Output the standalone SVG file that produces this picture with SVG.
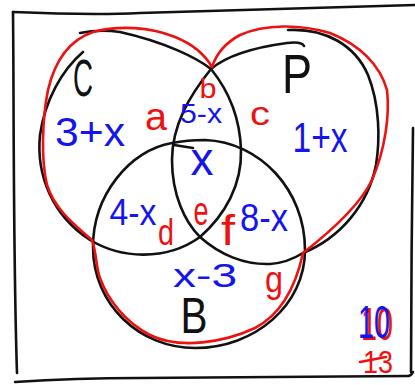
<svg xmlns="http://www.w3.org/2000/svg" width="415" height="385" viewBox="0 0 415 385">
<style>
.ink{fill:none;stroke:#111;stroke-width:2.6;stroke-linecap:round;stroke-linejoin:round}
.red{fill:none;stroke:#ee1111;stroke-width:2.6;stroke-linecap:round;stroke-linejoin:round}
text{font-family:"Liberation Sans",Arial,sans-serif;text-anchor:middle}
.blk{fill:#111}
.bl{fill:#1414f0}
.rd{fill:#ee1111}
</style>
<rect width="415" height="385" fill="#fff"/>
<g id="frame">
<path class="ink" d="M13,12 C60,14 100,15 140,13 C250,9 350,7 415,5"/>
<path class="ink" d="M13,12 C14,100 13,250 17,373"/>
<path class="ink" d="M15,382 C60,379 100,378 140,378 C250,378 350,377 408,376 C411,376 412,374 413,372"/>
<path class="ink" d="M413,128 C412,200 411,300 411,372"/>
</g>
<g id="set-C">
<path class="ink" d="M83,52 C62,70 45,100 40,135 C36,175 52,215 90,240 C120,258 165,262 200,237 C225,215 242,185 241,150 C240,118 228,90 211,69 C197,58 165,42 120,32 C105,30 90,31 80,33"/>
<text class="blk" x="83" y="96" font-size="52" textLength="20" lengthAdjust="spacingAndGlyphs">C</text>
</g>
<g id="set-P">
<path class="ink" d="M211,69 C225,57 250,48 287,43 C295,42 302,42 304,46"/>
<path class="ink" d="M211,69 C190,95 172,125 172,160 C172,195 185,222 200,237 C220,255 245,265 270,264 C285,263 295,258 303,253"/>
<path class="ink" d="M288,30 C325,28 355,45 368,75 C380,105 380,140 376,165 C368,205 340,238 303,253"/>
<text class="blk" x="297" y="93" font-size="56" textLength="30" lengthAdjust="spacingAndGlyphs">P</text>
</g>
<g id="set-B">
<path class="ink" d="M172,143 C130,150 93,195 93,247 C93,305 140,348 195,348 C255,348 305,305 305,250 C305,190 260,142 205,140 C193,140 182,141 172,143"/>
<path class="ink" d="M174,145 L193,148"/>
<text class="blk" x="194" y="333" font-size="50" textLength="27" lengthAdjust="spacingAndGlyphs">B</text>
</g>
<g id="union-outline">
<path class="red" d="M212,67 C205,55 195,45 175,37 C150,27 120,25 93,32 C70,40 55,60 48,90 C42,120 41,160 47,185 C55,210 75,225 92,240 C97,255 96,268 100,278 C108,300 125,322 150,335 C180,350 225,342 255,328 C280,315 295,290 303,253 C330,232 360,205 372,180 C385,150 390,115 387,90 C380,65 360,45 330,33 C300,24 265,24 240,35 C225,43 216,55 212,67 Z"/>
</g>
<g id="labels">
<text class="bl" x="90" y="146" font-size="40" textLength="70" lengthAdjust="spacingAndGlyphs">3+x</text>
<text class="rd" x="156" y="130" font-size="38" textLength="22" lengthAdjust="spacingAndGlyphs">a</text>
<text class="bl" x="201" y="123" font-size="28" textLength="42" lengthAdjust="spacingAndGlyphs">5-x</text>
<text class="rd" x="208" y="98" font-size="28" textLength="17" lengthAdjust="spacingAndGlyphs">b</text>
<text class="rd" x="260" y="125" font-size="34" textLength="20" lengthAdjust="spacingAndGlyphs">c</text>
<text class="bl" x="320" y="152" font-size="42" textLength="55" lengthAdjust="spacingAndGlyphs">1+x</text>
<text class="bl" x="202" y="175" font-size="46" textLength="23" lengthAdjust="spacingAndGlyphs">x</text>
<text class="bl" x="133" y="225" font-size="36" textLength="47" lengthAdjust="spacingAndGlyphs">4-x</text>
<text class="rd" x="166" y="245" font-size="36" textLength="16" lengthAdjust="spacingAndGlyphs">d</text>
<text class="rd" x="201" y="225" font-size="40" textLength="15" lengthAdjust="spacingAndGlyphs">e</text>
<text class="rd" x="228" y="245" font-size="42" textLength="14" lengthAdjust="spacingAndGlyphs">f</text>
<text class="bl" x="264" y="231" font-size="38" textLength="48" lengthAdjust="spacingAndGlyphs">8-x</text>
<text class="bl" x="205" y="287" font-size="34" textLength="64" lengthAdjust="spacingAndGlyphs">x-3</text>
<text class="rd" x="274" y="292" font-size="36" textLength="18" lengthAdjust="spacingAndGlyphs">g</text>
<text class="rd" x="377" y="340" font-size="46" textLength="32" lengthAdjust="spacingAndGlyphs">10</text>
<text class="bl" x="374" y="338" font-size="46" textLength="32" lengthAdjust="spacingAndGlyphs">10</text>
<text class="rd" x="378" y="373" font-size="32" textLength="30" lengthAdjust="spacingAndGlyphs">13</text>
<path class="red" d="M360,362 L386,357"/>
</g>
</svg>
